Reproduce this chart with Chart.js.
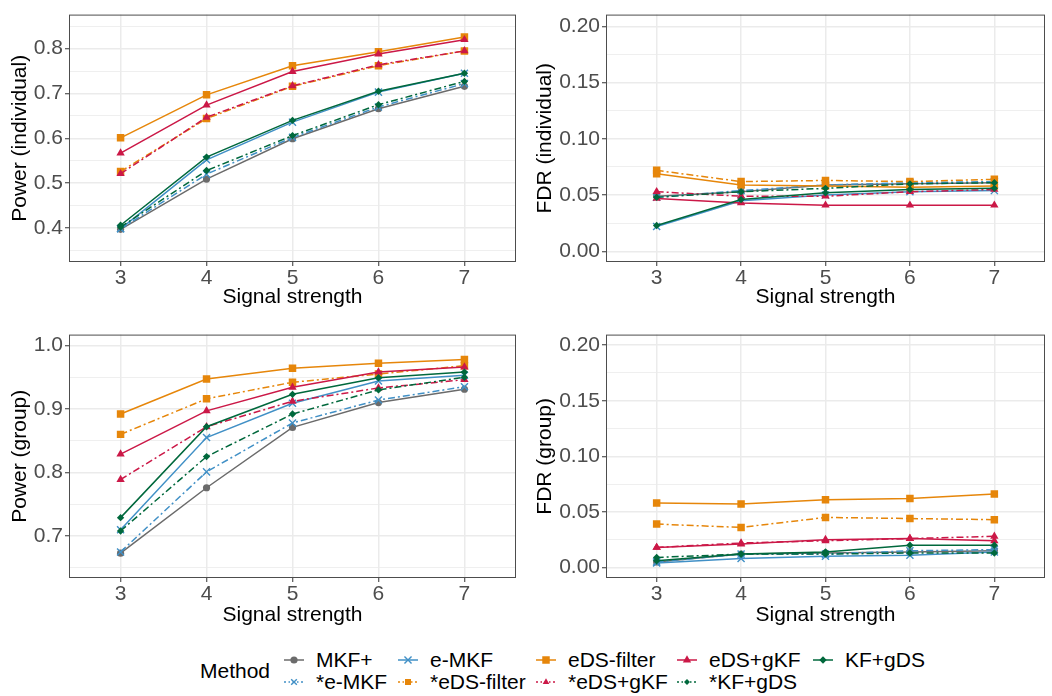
<!DOCTYPE html>
<html>
<head>
<meta charset="utf-8">
<script src="https://cdn.jsdelivr.net/npm/chart.js@4.4.1/dist/chart.umd.min.js"></script>
<style>
  body { margin: 0; background: #fff; }
  #wrap { position: relative; width: 1052px; height: 696px; font-family: "Liberation Sans", Arial, sans-serif; }
  .panel { position: absolute; }
  .lg { position: absolute; font-size: 21px; line-height: 24px; color: #000; white-space: nowrap; }
  .key { position: absolute; }
</style>
</head>
<body>
<div id="wrap">
  <div class="panel" style="left:0;top:0"><canvas id="pInd" width="526" height="320"></canvas></div>
  <div class="panel" style="left:530px;top:0"><canvas id="fInd" width="522" height="320"></canvas></div>
  <div class="panel" style="left:0;top:320px"><canvas id="pGrp" width="526" height="320"></canvas></div>
  <div class="panel" style="left:530px;top:320px"><canvas id="fGrp" width="522" height="320"></canvas></div>
  <div id="legend"></div>
</div>
<script>
// x values (signal strength)
const strengths = [3, 4, 5, 6, 7];

// methods, in legend order (column by column)
const methods = ["MKF+", "*e-MKF", "e-MKF", "*eDS-filter", "eDS-filter",
                 "*eDS+gKF", "eDS+gKF", "*KF+gDS", "KF+gDS"];

// one row per method, same order as above
const powerIndividual = [
    [0.397, 0.509, 0.599, 0.666, 0.716],
    [0.398, 0.520, 0.602, 0.670, 0.722],
    [0.398, 0.552, 0.636, 0.703, 0.745],
    [0.526, 0.644, 0.716, 0.762, 0.795],
    [0.601, 0.697, 0.762, 0.793, 0.826],
    [0.521, 0.647, 0.717, 0.764, 0.795],
    [0.567, 0.674, 0.749, 0.788, 0.820],
    [0.402, 0.528, 0.606, 0.675, 0.727],
    [0.406, 0.558, 0.640, 0.705, 0.745]
];

const fdrIndividual = [
    [0.049, 0.053, 0.059, 0.060, 0.061],
    [0.048, 0.054, 0.059, 0.061, 0.062],
    [0.022, 0.045, 0.050, 0.053, 0.054],
    [0.072, 0.062, 0.063, 0.062, 0.064],
    [0.069, 0.059, 0.058, 0.057, 0.058],
    [0.053, 0.049, 0.049, 0.053, 0.055],
    [0.047, 0.043, 0.041, 0.041, 0.041],
    [0.048, 0.053, 0.056, 0.060, 0.061],
    [0.023, 0.046, 0.052, 0.055, 0.056]
];

const powerGroup = [
    [0.673, 0.776, 0.871, 0.910, 0.931],
    [0.675, 0.801, 0.878, 0.914, 0.935],
    [0.710, 0.855, 0.909, 0.944, 0.953],
    [0.860, 0.916, 0.942, 0.955, 0.968],
    [0.892, 0.947, 0.964, 0.972, 0.978],
    [0.789, 0.872, 0.912, 0.933, 0.946],
    [0.829, 0.897, 0.934, 0.958, 0.966],
    [0.708, 0.825, 0.892, 0.930, 0.950],
    [0.729, 0.872, 0.923, 0.949, 0.958]
];

const fdrGroup = [
    [0.005, 0.012, 0.013, 0.014, 0.015],
    [0.005, 0.012, 0.012, 0.015, 0.016],
    [0.004, 0.008, 0.010, 0.011, 0.014],
    [0.039, 0.036, 0.045, 0.044, 0.043],
    [0.058, 0.057, 0.061, 0.062, 0.066],
    [0.018, 0.022, 0.024, 0.026, 0.028],
    [0.018, 0.021, 0.025, 0.026, 0.024],
    [0.009, 0.012, 0.012, 0.013, 0.013],
    [0.006, 0.012, 0.014, 0.020, 0.020]
];

// y tick values and labels
const powerIndTicks = [0.4, 0.5, 0.6, 0.7, 0.8];
const powerIndLabels = ["0.4", "0.5", "0.6", "0.7", "0.8"];
const powerIndMinor = [0.35, 0.45, 0.55, 0.65, 0.75, 0.85];

const powerGrpTicks = [0.7, 0.8, 0.9, 1.0];
const powerGrpLabels = ["0.7", "0.8", "0.9", "1.0"];
const powerGrpMinor = [0.65, 0.75, 0.85, 0.95];

const fdrTicks = [0, 0.05, 0.1, 0.15, 0.2];
const fdrLabels = ["0.00", "0.05", "0.10", "0.15", "0.20"];
const fdrMinor = [0.025, 0.075, 0.125, 0.175];

// look of each method (starred ones get the dot-dash line)
const styles = {
    "MKF+":       { color: "#6b6b6b", shape: "circle",   r: 3.6 },
    "e-MKF":      { color: "#4190c6", shape: "crossRot", r: 5 },
    "eDS-filter": { color: "#e6860a", shape: "rect",     r: 5.3 },
    "eDS+gKF":    { color: "#cb1847", shape: "triangle", r: 4.8 },
    "KF+gDS":     { color: "#00683c", shape: "rectRot",  r: 3.7 }
};
const dotDash = [7, 3, 2, 3];

function styleOf(m) {
    const st = styles[m.replace("*", "")];
    return Object.assign({ dash: m.startsWith("*") ? dotDash : [] }, st);
}

// panel border on all four sides
const framePlugin = {
    id: "frame",
    afterDraw(chart) {
        const { ctx, chartArea: a } = chart;
        ctx.save();
        ctx.strokeStyle = "#4d4d4d";
        ctx.lineWidth = 1;
        ctx.strokeRect(a.left + 0.5, a.top + 0.5, a.right - a.left - 1, a.bottom - a.top - 1);
        ctx.restore();
    }
};

function createPanel(canvasId, values, yTitle, yMin, yMax, ticks, labels, minor, box) {
    const ctx = document.getElementById(canvasId).getContext("2d");
    const allTicks = ticks.concat(minor).sort((a, b) => a - b);
    const isMajor = (v) => ticks.indexOf(v) >= 0;

    const datasets = methods.map((m, i) => {
        const st = styleOf(m);
        return {
            label: m,
            data: strengths.map((s, j) => ({ x: s, y: values[i][j] })),
            borderColor: st.color,
            backgroundColor: st.color,
            borderWidth: 1.5,
            borderDash: st.dash,
            pointStyle: st.shape,
            pointRadius: st.r,
            pointBorderWidth: st.shape === "crossRot" ? 1.4 : 0,
            pointBackgroundColor: st.color,
            pointBorderColor: st.color,
            order: methods.length - i
        };
    });

    new Chart(ctx, {
        type: "line",
        data: { datasets: datasets },
        plugins: [framePlugin],
        options: {
            responsive: false,
            animation: false,
            devicePixelRatio: 1,
            layout: { padding: { top: box.top, right: box.right, left: 0, bottom: 0 } },
            plugins: {
                legend: { display: false },
                tooltip: { enabled: false }
            },
            scales: {
                x: {
                    type: "linear",
                    min: 2.4,
                    max: 7.6,
                    afterBuildTicks: (s) => { s.ticks = strengths.map((v) => ({ value: v })); },
                    afterFit: (s) => { s.height = box.xHeight; },
                    ticks: {
                        color: "#4d4d4d",
                        font: { size: 21, family: "Liberation Sans" },
                        padding: 0,
                        autoSkip: false,
                        maxRotation: 0,
                        callback: (v) => String(v)
                    },
                    grid: {
                        color: "#ebebeb",
                        lineWidth: 1.5,
                        tickColor: "#333333",
                        tickLength: 4,
                        tickWidth: 1
                    },
                    border: { display: false },
                    title: {
                        display: true,
                        text: "Signal strength",
                        color: "#000",
                        font: { size: 21, family: "Liberation Sans" },
                        padding: { top: 0, bottom: box.xTitlePad }
                    }
                },
                y: {
                    type: "linear",
                    min: yMin,
                    max: yMax,
                    afterBuildTicks: (s) => { s.ticks = allTicks.map((v) => ({ value: v })); },
                    afterFit: (s) => { s.width = box.yWidth; },
                    ticks: {
                        color: "#4d4d4d",
                        font: { size: 21, family: "Liberation Sans" },
                        padding: 2,
                        autoSkip: false,
                        callback: (v) => isMajor(v) ? labels[ticks.indexOf(v)] : ""
                    },
                    grid: {
                        color: "#ebebeb",
                        lineWidth: (c) => c.tick && isMajor(c.tick.value) ? 1.5 : 0.8,
                        tickColor: (c) => c.tick && isMajor(c.tick.value) ? "#333333" : "rgba(0,0,0,0)",
                        tickLength: 4,
                        tickWidth: 1
                    },
                    border: { display: false },
                    title: {
                        display: true,
                        text: yTitle,
                        color: "#000",
                        font: { size: 21, family: "Liberation Sans" },
                        padding: { top: box.yTitlePad, bottom: 0 }
                    }
                }
            }
        }
    });
}

createPanel("pInd", powerIndividual, "Power (individual)", 0.324, 0.876,
    powerIndTicks, powerIndLabels, powerIndMinor,
    { top: 7, right: 10, yWidth: 69, xHeight: 58, yTitlePad: 8, xTitlePad: 10 });
createPanel("fInd", fdrIndividual, "FDR (individual)", -0.0095, 0.2105,
    fdrTicks, fdrLabels, fdrMinor,
    { top: 7, right: 7, yWidth: 76, xHeight: 58, yTitlePad: 3, xTitlePad: 10 });
createPanel("pGrp", powerGroup, "Power (group)", 0.634, 1.017,
    powerGrpTicks, powerGrpLabels, powerGrpMinor,
    { top: 6, right: 10, yWidth: 69, xHeight: 62, yTitlePad: 8, xTitlePad: 12 });
createPanel("fGrp", fdrGroup, "FDR (group)", -0.0095, 0.2095,
    fdrTicks, fdrLabels, fdrMinor,
    { top: 6, right: 7, yWidth: 76, xHeight: 62, yTitlePad: 3, xTitlePad: 12 });

// legend: 5 columns x 2 rows, filled column by column
const legend = document.getElementById("legend");
const colX = [294, 408, 546, 687, 823];
const rowY = [660, 682];

const title = document.createElement("div");
title.className = "lg";
title.textContent = "Method";
title.style.left = "200px";
title.style.top = (671 - 12) + "px";
legend.appendChild(title);

methods.forEach((m, i) => {
    const col = Math.floor(i / 2), row = i % 2;
    const cx = colX[col], cy = rowY[row];
    const st = styleOf(m);

    const c = document.createElement("canvas");
    c.width = 24; c.height = 20;
    c.className = "key";
    c.style.left = (cx - 12) + "px";
    c.style.top = (cy - 10) + "px";
    legend.appendChild(c);
    const g = c.getContext("2d");
    g.strokeStyle = st.color;
    g.fillStyle = st.color;
    g.lineWidth = 1.5;
    g.setLineDash(st.dash.length ? [2, 2.5, 1.5, 2.5] : []);
    g.beginPath();
    g.moveTo(2, 10);
    g.lineTo(22, 10);
    g.stroke();
    g.setLineDash([]);
    if (Chart.helpers && Chart.helpers.drawPoint) {
        g.lineWidth = 1.4;
        Chart.helpers.drawPoint(g, {
            pointStyle: st.shape,
            radius: st.r * (st.dash.length ? 0.8 : 1),
            rotation: 0,
            borderWidth: st.shape === "crossRot" ? 1.4 : 0
        }, 12, 10);
    }

    const t = document.createElement("div");
    t.className = "lg";
    t.textContent = m;
    t.style.left = (cx + 22) + "px";
    t.style.top = (cy - 12) + "px";
    legend.appendChild(t);
});
</script>
</body>
</html>
